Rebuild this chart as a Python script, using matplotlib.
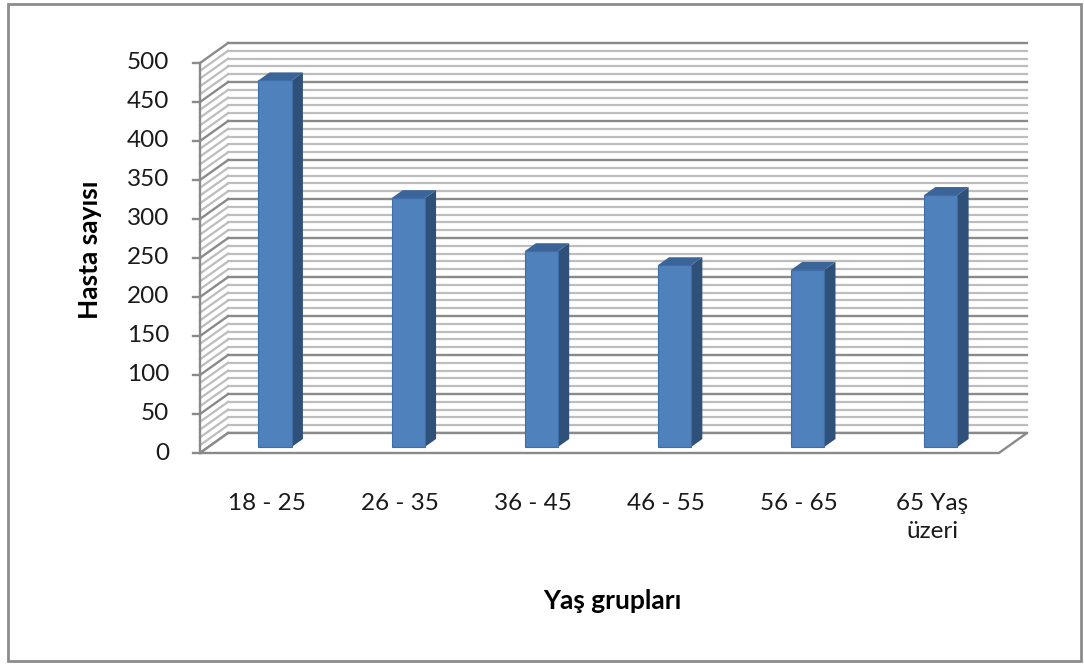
import numpy as np
import matplotlib.pyplot as plt
from matplotlib.patches import Polygon, Rectangle

# data
groups = ['18 - 25', '26 - 35', '36 - 45', '46 - 55', '56 - 65', '65 Yaş\nüzeri']
counts = [470, 319, 251, 233, 227, 323]
yticks = np.arange(0, 501, 50)

plt.rcParams['font.family'] = ['Lato', 'DejaVu Sans']

fig = plt.figure(figsize=(10.84, 6.64), dpi=100)
fig.patches.append(Rectangle((8/1084, 3/664), 1073/1084, 657/664, transform=fig.transFigure,
                             fill=False, edgecolor='#8c8c8c', linewidth=2))

# fake 3d: back wall shifted by (DX, DY) in data units
DX, DY = 0.2113, 25.64
n = len(groups)
ax = fig.add_axes([200/1084, (664-453)/664, 827/1084, 410/664])
ax.set_xlim(-0.5, n - 0.5 + DX)
ax.set_ylim(0, 500 + DY)
ax.axis('off')

x_left, x_right = -0.5, n - 0.5

# back wall grid + side wall diagonals
for v in range(0, 501, 10):
    major = v % 50 == 0
    c = '#8a8a8a' if major else '#bdbdbd'
    lw = 1.7 if major else 1.6
    ax.plot([x_left + DX, x_right + DX], [v + DY, v + DY], color=c, lw=lw, clip_on=False, zorder=1)
    ax.plot([x_left, x_left + DX], [v, v + DY], color=c, lw=lw, clip_on=False, zorder=1)

# floor
floor = Polygon([(x_left, 0), (x_right, 0), (x_right + DX, DY), (x_left + DX, DY)],
                closed=True, facecolor='white', edgecolor='#8a8a8a', lw=1.7, zorder=2, clip_on=False)
ax.add_patch(floor)

# front value axis
ax.plot([x_left, x_left], [0, 500], color='#8a8a8a', lw=1.7, clip_on=False, zorder=3)
for v in yticks:
    ax.plot([x_left - 0.055, x_left], [v, v], color='#8a8a8a', lw=1.7, clip_on=False, zorder=3)
    ax.text(x_left - 0.23, v, str(v), ha='right', va='center', fontsize=17.5, color='#1a1a1a')

# bars
w = 0.25
f0, d = 0.3, 0.4
for i, v in enumerate(counts):
    x0 = i - w/2 + f0*DX
    y0 = f0*DY
    side = Polygon([(x0 + w, y0), (x0 + w + d*DX, y0 + d*DY), (x0 + w + d*DX, y0 + v + d*DY), (x0 + w, y0 + v)],
                   closed=True, facecolor='#2f5078', edgecolor='none', zorder=4)
    top = Polygon([(x0, y0 + v), (x0 + w, y0 + v), (x0 + w + d*DX, y0 + v + d*DY), (x0 + d*DX, y0 + v + d*DY)],
                  closed=True, facecolor='#3b6598', edgecolor='none', zorder=4)
    front = Rectangle((x0, y0), w, v, facecolor='#4f81bd', edgecolor='#3f6ea6', lw=0.8, zorder=5)
    ax.add_patch(side)
    ax.add_patch(top)
    ax.add_patch(front)

# category labels
for i, g in enumerate(groups):
    ax.text(i, -51, g, ha='center', va='top', fontsize=17.5, color='#1a1a1a', linespacing=1.45)

ax.text((x_left + x_right)/2 + 0.1, -190, 'Yaş grupları', ha='center', va='center',
        fontsize=19, fontweight='bold', color='black')
fig.text(90/1084, 1 - 250/664, 'Hasta sayısı', rotation=90, ha='center', va='center',
         fontsize=19, fontweight='bold', color='black')

plt.savefig('out.png', dpi=100)
